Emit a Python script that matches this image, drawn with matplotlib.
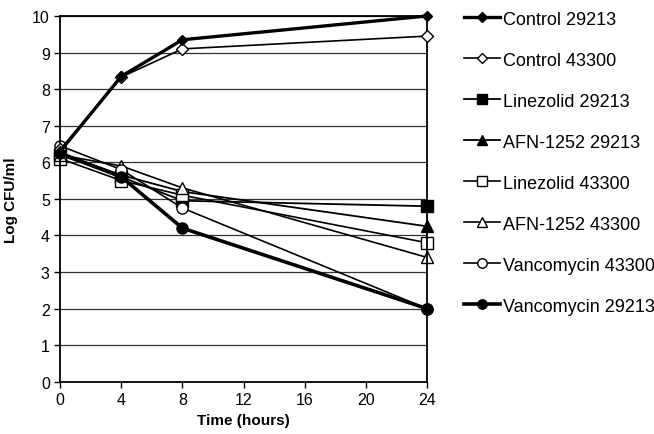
import numpy as np
import matplotlib.pyplot as plt

plt.rcParams['font.family'] = ['Liberation Sans', 'DejaVu Sans']

time = [0, 4, 8, 24]

control_29213 = [6.3, 8.35, 9.35, 10.0]
control_43300 = [6.35, 8.33, 9.1, 9.45]
linezolid_29213 = [6.2, 5.6, 4.95, 4.8]
afn_29213 = [6.25, 5.65, 5.2, 4.25]
linezolid_43300 = [6.1, 5.5, 5.1, 3.8]
afn_43300 = [6.2, 5.9, 5.3, 3.4]
vanco_43300 = [6.45, 5.8, 4.75, 2.0]
vanco_29213 = [6.25, 5.6, 4.2, 2.0]

fig = plt.figure(figsize=(6.54, 4.35), dpi=100)
ax = fig.add_axes([0.092, 0.12, 0.561, 0.841])

ax.set_xlim(0, 24)
ax.set_ylim(0, 10)
ax.set_xticks([0, 4, 8, 12, 16, 20, 24])
ax.set_yticks(range(0, 11))
ax.yaxis.grid(True, color='#333333', linewidth=0.9)
ax.set_axisbelow(True)
for s in ax.spines.values():
    s.set_linewidth(1.3)
ax.tick_params(labelsize=11.5, direction='out', length=4, width=1)

ax.plot(time, control_29213, color='black', lw=2.4, marker='D', ms=5.5,
        mfc='black', label='Control 29213', clip_on=False, zorder=5)
ax.plot(time, control_43300, color='black', lw=1.2, marker='D', ms=6,
        mfc='white', label='Control 43300', clip_on=False, zorder=4)
ax.plot(time, linezolid_29213, color='black', lw=1.3, marker='s', ms=8,
        mfc='black', label='Linezolid 29213', clip_on=False)
ax.plot(time, afn_29213, color='black', lw=1.3, marker='^', ms=8,
        mfc='black', label='AFN-1252 29213', clip_on=False)
ax.plot(time, linezolid_43300, color='black', lw=1.2, marker='s', ms=8,
        mfc='white', label='Linezolid 43300', clip_on=False)
ax.plot(time, afn_43300, color='black', lw=1.2, marker='^', ms=8,
        mfc='white', label='AFN-1252 43300', clip_on=False)
ax.plot(time, vanco_43300, color='black', lw=1.2, marker='o', ms=8,
        mfc='white', label='Vancomycin 43300', clip_on=False)
ax.plot(time, vanco_29213, color='black', lw=2.6, marker='o', ms=8,
        mfc='black', label='Vancomycin 29213', clip_on=False)

ax.set_xlabel('Time (hours)', fontsize=11, fontweight='bold')
ax.set_ylabel('Log CFU/ml', fontsize=11, fontweight='bold', labelpad=10)

fig.legend(loc='upper left', bbox_to_anchor=(0.698, 0.99), frameon=False,
           fontsize=13, handlelength=2.0, handletextpad=0.15,
           labelspacing=1.33, borderaxespad=0, markerscale=0.85)

fig.savefig('out.png', dpi=100)
